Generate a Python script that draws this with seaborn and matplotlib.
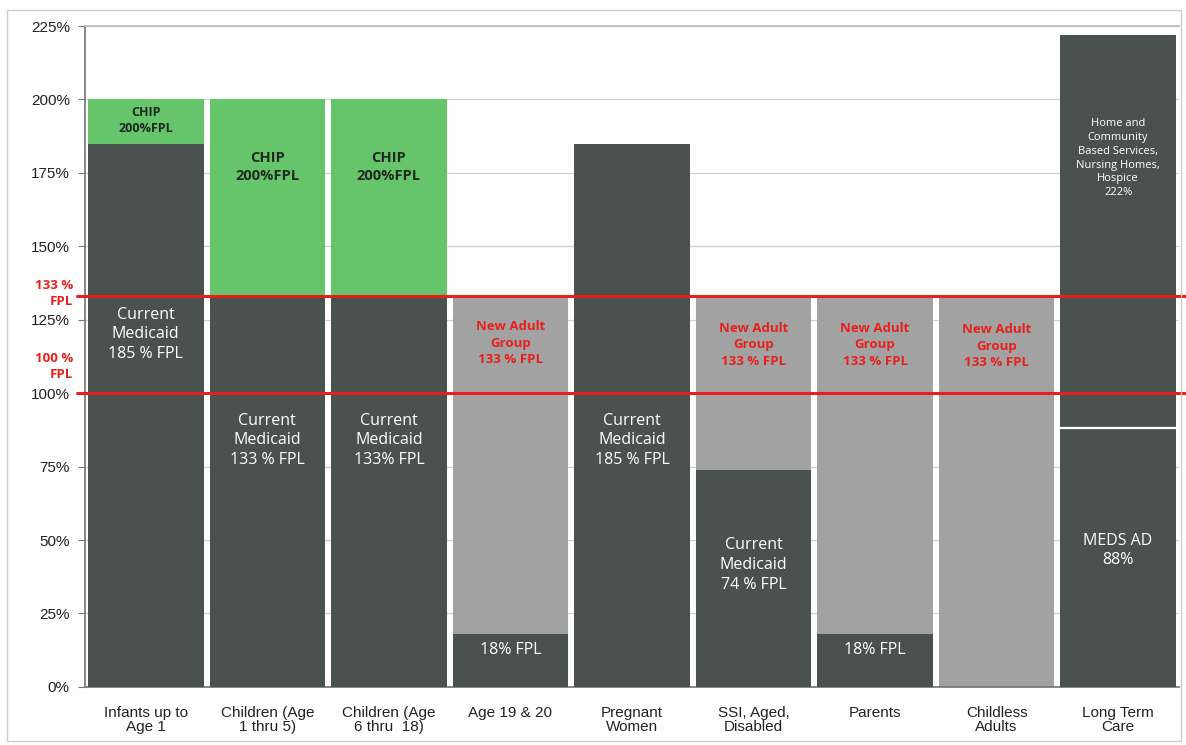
import matplotlib
matplotlib.use("Agg")
import matplotlib.pyplot as plt
import seaborn as sns
import pandas as pd
import numpy as np
from matplotlib.patches import Rectangle

categories = ["Infants up to\nAge 1", "Children (Age\n1 thru 5)", "Children (Age\n6 thru  18)",
              "Age 19 & 20", "Pregnant\nWomen", "SSI, Aged,\nDisabled", "Parents",
              "Childless\nAdults", "Long Term\nCare"]
total_levels = [200, 200, 200, 133, 185, 133, 133, 133, 222]
top_kind = ["CHIP", "CHIP", "CHIP", "New Adult", "Current", "New Adult", "New Adult", "New Adult", "LTC"]
current_levels = [185, 133, 133, 18, 185, 74, 18, 0, 88]
yticks = [0, 25, 50, 75, 100, 125, 150, 175, 200, 225]
ref_lines = [133, 100]
ref_labels = ["133 %\nFPL", "100 %\nFPL"]

top_labels = ["CHIP\n200%FPL", "CHIP\n200%FPL", "CHIP\n200%FPL",
              "New Adult\nGroup\n133 % FPL", "", "New Adult\nGroup\n133 % FPL",
              "New Adult\nGroup\n133 % FPL", "New Adult\nGroup\n133 % FPL",
              "Home and\nCommunity\nBased Services,\nNursing Homes,\nHospice\n222%"]
top_label_y = [193, 177, 177, 117, 0, 116.5, 116.5, 116, 180]
bottom_labels = ["Current\nMedicaid\n185 % FPL", "Current\nMedicaid\n133 % FPL", "Current\nMedicaid\n133% FPL",
                 "18% FPL", "Current\nMedicaid\n185 % FPL", "Current\nMedicaid\n74 % FPL",
                 "18% FPL", "", "MEDS AD\n88%"]
bottom_label_y = [120, 84, 84, 12.5, 84, 41.5, 12.5, 0, 46.5]

DARK = "#4a5250"
LIGHT = "#a2a2a2"
GREEN = "#66c46a"
RED = "#e8201c"
palette = {"CHIP": GREEN, "New Adult": LIGHT, "Current": DARK, "LTC": DARK}

df = pd.DataFrame({"cat": categories, "total": total_levels, "kind": top_kind,
                   "current": current_levels})

sns.set_theme(style="white")
plt.rcParams["font.family"] = ["Liberation Sans", "DejaVu Sans"]

fig = plt.figure(figsize=(11.86, 7.45), dpi=100)
ax = fig.add_axes([0.0717, 0.078, 0.9223, 0.887])

sns.barplot(data=df, x="cat", y="total", hue="kind", palette=palette, dodge=False,
            saturation=1, width=0.95, ax=ax, legend=False, edgecolor="none",
            linewidth=0, zorder=2)
n_top = len(ax.patches)
sns.barplot(data=df, x="cat", y="current", color=DARK, saturation=1,
            width=0.95, ax=ax, edgecolor="none", linewidth=0, zorder=3)

# white separator on top of the long term care bottom segment
ltc = ax.patches[n_top + 8]
ax.plot([ltc.get_x(), ltc.get_x() + ltc.get_width()], [ltc.get_height()] * 2,
        color="white", linewidth=1.6, zorder=4)

ax.set_xlim(-0.5, 8.5)
ax.set_ylim(0, 225)
ax.set_yticks(yticks)
ax.set_yticklabels([f"{v}%" for v in yticks], fontsize=11, color="#222222")
ax.set_xlabel("")
ax.set_ylabel("")
ax.set_xticks(range(len(categories)))
ax.set_xticklabels(categories, fontsize=11, color="#222222", linespacing=1.0)
ax.tick_params(axis="x", length=0, pad=14)
ax.set_xticks(np.arange(-0.5, 9, 1), minor=True)
ax.tick_params(axis="x", which="minor", length=5, color="#777777", width=0.8)
ax.tick_params(axis="y", length=5, color="#777777", width=0.8, left=True, pad=6)

ax.yaxis.grid(True, color="#cfcfcf", linewidth=0.9, zorder=0)
ax.set_axisbelow(True)
ax.spines["right"].set_visible(False)
ax.spines["top"].set_color("#bbbbbb")
ax.spines["left"].set_color("#777777")
ax.spines["bottom"].set_color("#777777")

# reference lines
for y in ref_lines:
    ax.plot([-0.57, 8.56], [y, y], color=RED, linewidth=2.2, zorder=5, clip_on=False)
lab_font = ["Open Sans", "DejaVu Sans"]
ax.text(-0.6, 134, ref_labels[0], color=RED, fontsize=9.5, fontweight="bold",
        ha="right", va="center", linespacing=1.3, family=lab_font)
ax.text(-0.6, 109, ref_labels[1], color=RED, fontsize=9.5, fontweight="bold",
        ha="right", va="center", linespacing=1.3, family=lab_font)

for i, (t, y, k) in enumerate(zip(top_labels, top_label_y, top_kind)):
    if not t:
        continue
    if k == "CHIP":
        fs = 9 if i == 0 else 10.5
        ax.text(i, y, t, color="#1f2a22", fontsize=fs, fontweight="bold", ha="center",
                va="center", family=lab_font, linespacing=1.3, zorder=6)
    elif k == "New Adult":
        ax.text(i, y, t, color=RED, fontsize=9.5, fontweight="bold", ha="center",
                va="center", family=lab_font, linespacing=1.35, zorder=6)
    else:
        ax.text(i, y, t, color="white", fontsize=8, ha="center",
                va="center", family=lab_font, linespacing=1.35, zorder=6)
for i, (t, y) in enumerate(zip(bottom_labels, bottom_label_y)):
    if not t:
        continue
    ax.text(i, y, t, color="white", fontsize=11.5, ha="center", va="center",
            family=lab_font, linespacing=1.3, zorder=6)

fig.patches.append(Rectangle((0.006, 0.005), 0.99, 0.982, transform=fig.transFigure,
                             fill=False, edgecolor="#cccccc", linewidth=1))
fig.savefig("out.png", dpi=100)
